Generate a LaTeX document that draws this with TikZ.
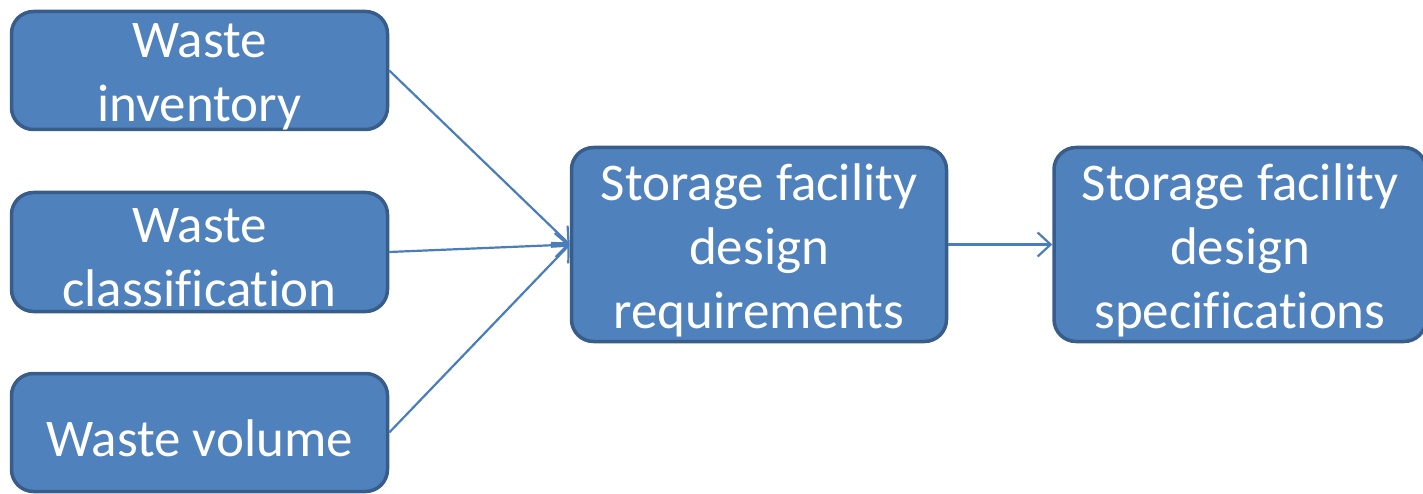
\documentclass[tikz,border=0pt]{standalone}
\usepackage{fontspec}
\setmainfont[Ligatures=NoCommon]{Carlito}
\usetikzlibrary{arrows.meta}
\definecolor{boxfill}{HTML}{4F81BD}
\definecolor{boxline}{HTML}{385D8A}
\definecolor{linkcol}{HTML}{4A7EBB}
\tikzset{
  stage/.style={draw=boxline, fill=boxfill, line width=3.5pt, rounded corners=22pt,
    inner sep=0pt},
  caption/.style={text=white, align=center, inner sep=0pt,
    font=\fontsize{53}{64}\selectfont},
  link/.style={draw=linkcol, line width=2.2pt,
    -{Straight Barb[length=13pt,width=24pt,line width=2.2pt]}}
}
% label placed slightly below the box centre, as the text sits in the box
\newcommand\boxtext[2]{\node[caption] at ([yshift=-6pt]#1.center) {#2};}
\begin{document}
\begin{tikzpicture}[x=1pt,y=-1pt]
\useasboundingbox (0,0) rectangle (1423,494);
\node[stage, minimum width=376pt, minimum height=118pt] (inv) at (199.5,70.5) {};
\node[stage, minimum width=376pt, minimum height=119pt] (cls) at (199.5,252) {};
\node[stage, minimum width=376pt, minimum height=118pt] (vol) at (199.5,432.5) {};
\node[stage, minimum width=375pt, minimum height=194pt] (req) at (759,244.5) {};
\node[stage, minimum width=372pt, minimum height=194pt] (spec) at (1240,244.5) {};
\boxtext{inv}{Waste\\inventory}
\boxtext{cls}{Waste\\classification}
\boxtext{vol}{Waste volume}
\boxtext{req}{Storage facility\\design\\requirements}
\boxtext{spec}{Storage facility\\design\\specifications}
\coordinate (reqin) at (req.west);
\draw[link] (inv.east) -- (reqin);
\draw[link] (cls.east) -- (reqin);
\draw[link] (vol.east) -- (reqin);
\draw[link] (req.east) -- (spec.west);
\end{tikzpicture}
\end{document}
